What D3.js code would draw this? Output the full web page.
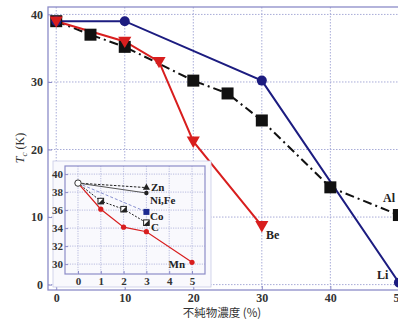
<!DOCTYPE html>
<html>
<head>
<meta charset="utf-8">
<script src="https://cdn.jsdelivr.net/npm/d3@7"></script>
<style>
  body { margin: 0; background: #fff; }
  svg { display: block; font-family: "Liberation Serif", "DejaVu Serif", serif; }
</style>
</head>
<body>
<div id="chart"></div>
<script>
// main chart data (impurity %, Tc in K)
const liX = [0, 10, 30, 50];
const liY = [39, 39, 30.2, 0.3];
const beX = [0, 10, 15, 20, 30];
const beY = [39, 36, 33, 21.2, 8.7];
const alX = [0, 5, 10, 20, 25, 30, 40, 50];
const alY = [39, 37, 35.2, 30.2, 28.3, 24.3, 14.4, 10.3];
const mainXTicks = [0, 10, 20, 30, 40, 50];
const mainYTicks = [0, 10, 20, 30, 40];

// inset data
const znX = [0, 3];
const znY = [39, 38.5];
const niFeX = [0, 3];
const niFeY = [39, 37.9];
const coX = [0, 3];
const coY = [39, 35.8];
const cX = [0, 1, 2, 3];
const cY = [39, 37, 36.1, 34.6];
const mnX = [0, 1, 2, 3, 5];
const mnY = [39, 36.1, 34.1, 33.6, 30.2];
const insetXTicks = [0, 1, 2, 3, 4, 5];
const insetYTicks = [30, 32, 34, 36, 38, 40];

const W = 398, H = 320;
const frameCol = "#8c8cc8";
const gridCol = "#a8acd8";
const navy = "#1c1c80";
const red = "#d81e1e";

const svg = d3.select("#chart").append("svg")
  .attr("width", W).attr("height", H);

// main scales
const x = d3.scaleLinear().domain([-1.2, 50.6]).range([48, 403]);
const y = d3.scaleLinear().domain([-0.8, 41.1]).range([290, 7]);

// grid
svg.append("g").selectAll("line").data(mainXTicks).enter().append("line")
  .attr("x1", d => x(d)).attr("x2", d => x(d))
  .attr("y1", y(41.1)).attr("y2", y(-0.8))
  .attr("stroke", gridCol).attr("stroke-width", 1).attr("stroke-dasharray", "1.5,1.5");
svg.append("g").selectAll("line").data(mainYTicks).enter().append("line")
  .attr("x1", x(-1.2)).attr("x2", W)
  .attr("y1", d => y(d)).attr("y2", d => y(d))
  .attr("stroke", gridCol).attr("stroke-width", 1).attr("stroke-dasharray", "1.5,1.5");

// frame
svg.append("rect")
  .attr("x", x(-1.2)).attr("y", y(41.1))
  .attr("width", x(50.6) - x(-1.2)).attr("height", y(-0.8) - y(41.1))
  .attr("fill", "none").attr("stroke", frameCol).attr("stroke-width", 1.3);

// axes (ticks + labels)
const xAxis = svg.append("g")
  .attr("transform", "translate(0," + y(-0.8) + ")")
  .call(d3.axisBottom(x).tickValues(mainXTicks).tickSize(-4).tickPadding(3));
const yAxis = svg.append("g")
  .attr("transform", "translate(" + x(-1.2) + ",0)")
  .call(d3.axisLeft(y).tickValues(mainYTicks).tickSize(-4).tickPadding(5));
[xAxis, yAxis].forEach(a => {
  a.select(".domain").remove();
  a.selectAll(".tick line").attr("stroke", frameCol);
  a.selectAll("text").attr("font-family", "Liberation Serif").attr("font-size", 12)
    .attr("font-weight", "bold").attr("fill", "#333");
});

// axis titles
svg.append("text")
  .attr("transform", "translate(24,148) rotate(-90)")
  .attr("text-anchor", "middle").attr("font-size", 12).attr("fill", "#333")
  .html('<tspan font-style="italic">T</tspan><tspan font-size="9" dy="3" font-style="italic">c</tspan><tspan dy="-3"> (K)</tspan>');
svg.append("text")
  .attr("x", 222).attr("y", 317).attr("text-anchor", "middle")
  .attr("font-family", "Noto Sans CJK JP").attr("font-size", 11.5).attr("fill", "#333")
  .text("不純物濃度 (%)");

const line = d3.line().x(d => x(d[0])).y(d => y(d[1]));
const zip = (a, b) => a.map((v, i) => [v, b[i]]);

const liData = zip(liX, liY);
const beData = zip(beX, beY);
const alData = zip(alX, alY);

// Al: dash-dot black with squares
svg.append("path").datum(alData).attr("d", line)
  .attr("fill", "none").attr("stroke", "#111").attr("stroke-width", 2)
  .attr("stroke-dasharray", "9,4,2,4");
// Li: navy solid
svg.append("path").datum(liData).attr("d", line)
  .attr("fill", "none").attr("stroke", navy).attr("stroke-width", 2);
// Be: red solid
svg.append("path").datum(beData).attr("d", line)
  .attr("fill", "none").attr("stroke", red).attr("stroke-width", 2);

svg.append("g").selectAll("rect").data(alData).enter().append("rect")
  .attr("x", d => x(d[0]) - 6).attr("y", d => y(d[1]) - 6)
  .attr("width", 12).attr("height", 12).attr("fill", "#111");
svg.append("g").selectAll("circle").data(liData).enter().append("circle")
  .attr("cx", d => x(d[0])).attr("cy", d => y(d[1])).attr("r", 5)
  .attr("fill", navy);
const tri = d3.symbol().type(d3.symbolTriangle).size(75);
svg.append("g").selectAll("path").data(beData).enter().append("path")
  .attr("d", tri)
  .attr("transform", d => "translate(" + x(d[0]) + "," + (y(d[1]) - 1) + ") rotate(180)")
  .attr("fill", red);

// series labels
const lbl = (t, px, py) => svg.append("text").attr("x", px).attr("y", py)
  .attr("font-size", 12).attr("font-weight", "bold").attr("fill", "#222").text(t);
lbl("Al", 383, 202);
lbl("Be", 266, 239);
lbl("Li", 377, 279);

// ---------- inset ----------
const ix = d3.scaleLinear().domain([-0.57, 5.57]).range([65, 205]);
const iy = d3.scaleLinear().domain([28.9, 40.9]).range([274, 166]);

svg.append("rect")
  .attr("x", 53).attr("y", 161).attr("width", 158).attr("height", 126)
  .attr("fill", "#f9f9fd").attr("stroke", "#c8cae6").attr("stroke-width", 0.8);

svg.append("g").selectAll("line").data(insetXTicks).enter().append("line")
  .attr("x1", d => ix(d)).attr("x2", d => ix(d))
  .attr("y1", iy(40.9)).attr("y2", iy(28.9))
  .attr("stroke", gridCol).attr("stroke-width", 0.8).attr("stroke-dasharray", "1.2,1.2");
svg.append("g").selectAll("line").data(insetYTicks).enter().append("line")
  .attr("x1", ix(-0.57)).attr("x2", ix(5.57))
  .attr("y1", d => iy(d)).attr("y2", d => iy(d))
  .attr("stroke", gridCol).attr("stroke-width", 0.8).attr("stroke-dasharray", "1.2,1.2");
svg.append("rect")
  .attr("x", ix(-0.57)).attr("y", iy(40.9))
  .attr("width", ix(5.57) - ix(-0.57)).attr("height", iy(28.9) - iy(40.9))
  .attr("fill", "none").attr("stroke", frameCol).attr("stroke-width", 1.2);

const ixAxis = svg.append("g")
  .attr("transform", "translate(0," + iy(28.9) + ")")
  .call(d3.axisBottom(ix).tickValues(insetXTicks).tickFormat(d3.format("d")).tickSize(-3).tickPadding(3));
const iyAxis = svg.append("g")
  .attr("transform", "translate(" + ix(-0.57) + ",0)")
  .call(d3.axisLeft(iy).tickValues(insetYTicks).tickFormat(d3.format("d")).tickSize(-3).tickPadding(2));
[ixAxis, iyAxis].forEach(a => {
  a.select(".domain").remove();
  a.selectAll(".tick line").attr("stroke", frameCol);
  a.selectAll("text").attr("font-family", "Liberation Serif").attr("font-size", 11)
    .attr("font-weight", "bold").attr("fill", "#333");
});

const iline = d3.line().x(d => ix(d[0])).y(d => iy(d[1]));
const znData = zip(znX, znY);
const niFeData = zip(niFeX, niFeY);
const coData = zip(coX, coY);
const cData = zip(cX, cY);
const mnData = zip(mnX, mnY);

svg.append("path").datum(coData).attr("d", iline)
  .attr("fill", "none").attr("stroke", "#8890d0").attr("stroke-width", 1)
  .attr("stroke-dasharray", "3,2");
svg.append("path").datum(znData).attr("d", iline)
  .attr("fill", "none").attr("stroke", "#222").attr("stroke-width", 1)
  .attr("stroke-dasharray", "2.5,1.5");
svg.append("path").datum(niFeData).attr("d", iline)
  .attr("fill", "none").attr("stroke", "#555").attr("stroke-width", 1);
svg.append("path").datum(cData).attr("d", iline)
  .attr("fill", "none").attr("stroke", "#222").attr("stroke-width", 1)
  .attr("stroke-dasharray", "2,1.5");
svg.append("path").datum(mnData).attr("d", iline)
  .attr("fill", "none").attr("stroke", red).attr("stroke-width", 1.2);

// inset markers
svg.append("g").selectAll("circle").data(mnData.slice(1)).enter().append("circle")
  .attr("cx", d => ix(d[0])).attr("cy", d => iy(d[1])).attr("r", 2.6).attr("fill", red);
svg.append("circle").attr("cx", ix(0)).attr("cy", iy(39)).attr("r", 3.2)
  .attr("fill", "#fff").attr("stroke", "#333").attr("stroke-width", 1);
svg.append("g").selectAll("rect").data(cData.slice(1)).enter().append("rect")
  .attr("x", d => ix(d[0]) - 2.8).attr("y", d => iy(d[1]) - 2.8)
  .attr("width", 5.6).attr("height", 5.6)
  .attr("fill", "#fff").attr("stroke", "#222").attr("stroke-width", 1);
svg.append("g").selectAll("path").data(cData.slice(1)).enter().append("path")
  .attr("d", d => "M" + (ix(d[0]) - 2.8) + "," + (iy(d[1]) + 2.8) + "l5.6,0l0,-5.6z")
  .attr("fill", "#222");
svg.append("g").selectAll("path").data(znData.slice(1)).enter().append("path")
  .attr("d", d3.symbol().type(d3.symbolTriangle).size(22))
  .attr("transform", d => "translate(" + ix(d[0]) + "," + iy(d[1]) + ")")
  .attr("fill", "#222");
svg.append("g").selectAll("circle").data(niFeData.slice(1)).enter().append("circle")
  .attr("cx", d => ix(d[0])).attr("cy", d => iy(d[1])).attr("r", 2.2).attr("fill", "#222");
svg.append("g").selectAll("rect").data(coData.slice(1)).enter().append("rect")
  .attr("x", d => ix(d[0]) - 3).attr("y", d => iy(d[1]) - 3)
  .attr("width", 6).attr("height", 6).attr("fill", "#1c2a90");

const ilbl = (t, px, py, anchor) => svg.append("text").attr("x", px).attr("y", py)
  .attr("text-anchor", anchor || "start")
  .attr("font-size", 11).attr("font-weight", "bold").attr("fill", "#222").text(t);
ilbl("Zn", 151, 191);
ilbl("Ni,Fe", 150, 204);
ilbl("Co", 150, 220);
ilbl("C", 151, 231);
ilbl("Mn", 185, 268, "end");
</script>
</body>
</html>
